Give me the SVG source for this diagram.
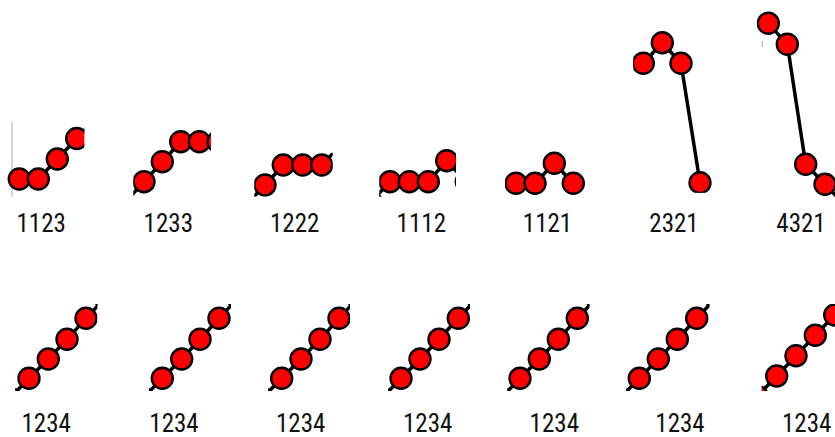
<svg xmlns="http://www.w3.org/2000/svg" width="835" height="437" viewBox="0 0 835 437">
<style>
.ln{fill:none;stroke:#000;stroke-width:3.5;stroke-linejoin:round}
.pt{fill:#ff0000;stroke:#000;stroke-width:2.4}
.lbl{font-family:"Liberation Sans Narrow","Roboto Condensed","Liberation Sans",sans-serif;font-size:25px;fill:#111;text-anchor:middle}
.ax{stroke:#aaa;stroke-width:1}
</style>
<defs>
<clipPath id="c1"><rect x="0" y="121" width="84.3" height="76"/></clipPath>
<clipPath id="c2"><rect x="133.3" y="118" width="77.7" height="79"/></clipPath>
<clipPath id="c3"><rect x="254.3" y="152.7" width="78.4" height="44"/></clipPath>
<clipPath id="c4"><rect x="379.3" y="140" width="76.7" height="56.7"/></clipPath>
<clipPath id="c5"><rect x="505" y="140" width="85" height="55"/></clipPath>
<clipPath id="c6"><rect x="633.3" y="20" width="80" height="172.7"/></clipPath>
<clipPath id="c7"><rect x="756.7" y="0" width="78.3" height="200"/></clipPath>
<clipPath id="d1"><rect x="15.3" y="304" width="82" height="87"/></clipPath>
<clipPath id="d2"><rect x="149" y="304" width="82" height="87"/></clipPath>
<clipPath id="d3"><rect x="268.3" y="304" width="81.7" height="87"/></clipPath>
<clipPath id="d4"><rect x="388.3" y="304" width="81.7" height="87"/></clipPath>
<clipPath id="d5"><rect x="507.3" y="304" width="82" height="87"/></clipPath>
<clipPath id="d6"><rect x="626" y="304" width="83.3" height="87"/></clipPath>
<clipPath id="d7"><rect x="761.7" y="304" width="73.3" height="87"/></clipPath>
</defs>

<g id="connectors">
<line class="ax" x1="12" y1="121.7" x2="12" y2="196.7"/>
<polyline class="ln" clip-path="url(#c1)" points="19.3,179 38.3,179 57.3,159 76.7,138.5 95.7,118"/>
<polyline class="ln" clip-path="url(#c2)" points="125.5,201.7 144,181.7 162.3,161.7 180.7,141.7 199.3,141.7 218,141.7"/>
<polyline class="ln" clip-path="url(#c3)" points="246,205 265,185 283.3,165 302.7,165 321.7,165 341,145"/>
<polyline class="ln" clip-path="url(#c4)" points="371,201.7 390,181.7 409.3,181.7 428.3,181.7 446.7,160.7 466.3,181.7"/>
<polyline class="ln" clip-path="url(#c5)" points="497,183.3 516,183.3 535,183.3 554.3,163.3 573.3,183.3"/>
<polyline class="ln" clip-path="url(#c6)" points="624.3,63.3 643.3,63.3 662.3,42.7 681,63.3 700,182.7"/>
<polyline class="ln" clip-path="url(#c7)" points="768.3,23.3 787.3,44.3 805.7,164.3 825,184.3 844,204"/>
<polyline class="ln" clip-path="url(#d1)" points="10,398 29,378.3 48.3,359 67,339.3 86,318.3 105,298"/>
<polyline class="ln" clip-path="url(#d2)" points="143,398 162.3,378.3 181.7,359 200,339.3 219,318.3 238,298"/>
<polyline class="ln" clip-path="url(#d3)" points="262.5,398 281.7,378.3 301,359 320,339.3 339,318.3 358,298"/>
<polyline class="ln" clip-path="url(#d4)" points="382,398 401,378.3 420,359 439,339.3 458.3,318.3 477.5,298"/>
<polyline class="ln" clip-path="url(#d5)" points="501,398 520,378.3 539.3,359 558.3,339.3 577.3,318.3 596.5,298"/>
<polyline class="ln" clip-path="url(#d6)" points="620,398 639.3,378.3 658.3,359 677.3,339.3 696.7,318.3 716,298"/>
<polyline class="ln" clip-path="url(#d7)" points="757.3,396.3 776.7,376 796,355.7 815.3,335.3 834.7,315"/>
</g>

<g id="panel-1123" clip-path="url(#c1)">
<circle class="pt" cx="19.3" cy="179" r="10.5"/><circle class="pt" cx="38.3" cy="179" r="10.5"/><circle class="pt" cx="57.3" cy="159" r="10.5"/><circle class="pt" cx="76.7" cy="138.5" r="10.5"/>
</g>
<g id="panel-1233" clip-path="url(#c2)">
<circle class="pt" cx="144" cy="181.7" r="10.5"/><circle class="pt" cx="162.3" cy="161.7" r="10.5"/><circle class="pt" cx="180.7" cy="141.7" r="10.5"/><circle class="pt" cx="199.3" cy="141.7" r="10.5"/><circle class="pt" cx="218" cy="141.7" r="10.5"/>
</g>
<g id="panel-1222" clip-path="url(#c3)">
<circle class="pt" cx="265" cy="185" r="10.5"/><circle class="pt" cx="283.3" cy="165" r="10.5"/><circle class="pt" cx="302.7" cy="165" r="10.5"/><circle class="pt" cx="321.7" cy="165" r="10.5"/>
</g>
<g id="panel-1112" clip-path="url(#c4)">
<circle class="pt" cx="371" cy="201.7" r="10.5"/><circle class="pt" cx="390" cy="181.7" r="10.5"/><circle class="pt" cx="409.3" cy="181.7" r="10.5"/><circle class="pt" cx="428.3" cy="181.7" r="10.5"/><circle class="pt" cx="446.7" cy="160.7" r="10.5"/><circle class="pt" cx="466.3" cy="181.7" r="10.5"/>
</g>
<g id="panel-1121" clip-path="url(#c5)">
<circle class="pt" cx="516" cy="183.3" r="10.5"/><circle class="pt" cx="535" cy="183.3" r="10.5"/><circle class="pt" cx="554.3" cy="163.3" r="10.5"/><circle class="pt" cx="573.3" cy="183.3" r="10.5"/>
</g>
<g id="panel-2321" clip-path="url(#c6)">
<circle class="pt" cx="643.3" cy="63.3" r="10.5"/><circle class="pt" cx="662.3" cy="42.7" r="10.5"/><circle class="pt" cx="681" cy="63.3" r="10.5"/><circle class="pt" cx="700" cy="182.7" r="10.5"/>
</g>
<g id="panel-4321" clip-path="url(#c7)">
<line class="ax" x1="762.3" y1="41" x2="762.3" y2="47"/>
<circle class="pt" cx="768.3" cy="23.3" r="10.5"/><circle class="pt" cx="787.3" cy="44.3" r="10.5"/><circle class="pt" cx="805.7" cy="164.3" r="10.5"/><circle class="pt" cx="825" cy="184.3" r="10.5"/>
</g>

<g id="panel-1234-a" clip-path="url(#d1)">
<circle class="pt" cx="10" cy="398" r="10.5"/><circle class="pt" cx="29" cy="378.3" r="10.5"/><circle class="pt" cx="48.3" cy="359" r="10.5"/><circle class="pt" cx="67" cy="339.3" r="10.5"/><circle class="pt" cx="86" cy="318.3" r="10.5"/><circle class="pt" cx="105" cy="298" r="10.5"/>
</g>
<g id="panel-1234-b" clip-path="url(#d2)">
<circle class="pt" cx="143" cy="398" r="10.5"/><circle class="pt" cx="162.3" cy="378.3" r="10.5"/><circle class="pt" cx="181.7" cy="359" r="10.5"/><circle class="pt" cx="200" cy="339.3" r="10.5"/><circle class="pt" cx="219" cy="318.3" r="10.5"/><circle class="pt" cx="238" cy="298" r="10.5"/>
</g>
<g id="panel-1234-c" clip-path="url(#d3)">
<circle class="pt" cx="262.5" cy="398" r="10.5"/><circle class="pt" cx="281.7" cy="378.3" r="10.5"/><circle class="pt" cx="301" cy="359" r="10.5"/><circle class="pt" cx="320" cy="339.3" r="10.5"/><circle class="pt" cx="339" cy="318.3" r="10.5"/><circle class="pt" cx="358" cy="298" r="10.5"/>
</g>
<g id="panel-1234-d" clip-path="url(#d4)">
<circle class="pt" cx="382" cy="398" r="10.5"/><circle class="pt" cx="401" cy="378.3" r="10.5"/><circle class="pt" cx="420" cy="359" r="10.5"/><circle class="pt" cx="439" cy="339.3" r="10.5"/><circle class="pt" cx="458.3" cy="318.3" r="10.5"/><circle class="pt" cx="477.5" cy="298" r="10.5"/>
</g>
<g id="panel-1234-e" clip-path="url(#d5)">
<circle class="pt" cx="501" cy="398" r="10.5"/><circle class="pt" cx="520" cy="378.3" r="10.5"/><circle class="pt" cx="539.3" cy="359" r="10.5"/><circle class="pt" cx="558.3" cy="339.3" r="10.5"/><circle class="pt" cx="577.3" cy="318.3" r="10.5"/><circle class="pt" cx="596.5" cy="298" r="10.5"/>
</g>
<g id="panel-1234-f" clip-path="url(#d6)">
<circle class="pt" cx="620" cy="398" r="10.5"/><circle class="pt" cx="639.3" cy="378.3" r="10.5"/><circle class="pt" cx="658.3" cy="359" r="10.5"/><circle class="pt" cx="677.3" cy="339.3" r="10.5"/><circle class="pt" cx="696.7" cy="318.3" r="10.5"/><circle class="pt" cx="716" cy="298" r="10.5"/>
</g>
<g id="panel-1234-g" clip-path="url(#d7)">
<circle class="pt" cx="757.3" cy="396.3" r="10.5"/><circle class="pt" cx="776.7" cy="376" r="10.5"/><circle class="pt" cx="796" cy="355.7" r="10.5"/><circle class="pt" cx="815.3" cy="335.3" r="10.5"/><circle class="pt" cx="834.7" cy="315" r="10.5"/>
</g>

<g id="labels">
<text class="lbl" x="41.2" y="231.5">1123</text>
<text class="lbl" x="168.3" y="231.5">1233</text>
<text class="lbl" x="294.7" y="231.5">1222</text>
<text class="lbl" x="421.3" y="231.5">1112</text>
<text class="lbl" x="547.5" y="231.5">1121</text>
<text class="lbl" x="674" y="231.5">2321</text>
<text class="lbl" x="801" y="231.5">4321</text>
<text class="lbl" x="46.2" y="431.5">1234</text>
<text class="lbl" x="174" y="431.5">1234</text>
<text class="lbl" x="300.7" y="431.5">1234</text>
<text class="lbl" x="427.7" y="431.5">1234</text>
<text class="lbl" x="554.3" y="431.5">1234</text>
<text class="lbl" x="680" y="431.5">1234</text>
<text class="lbl" x="806.7" y="431.5">1234</text>
</g>
</svg>
